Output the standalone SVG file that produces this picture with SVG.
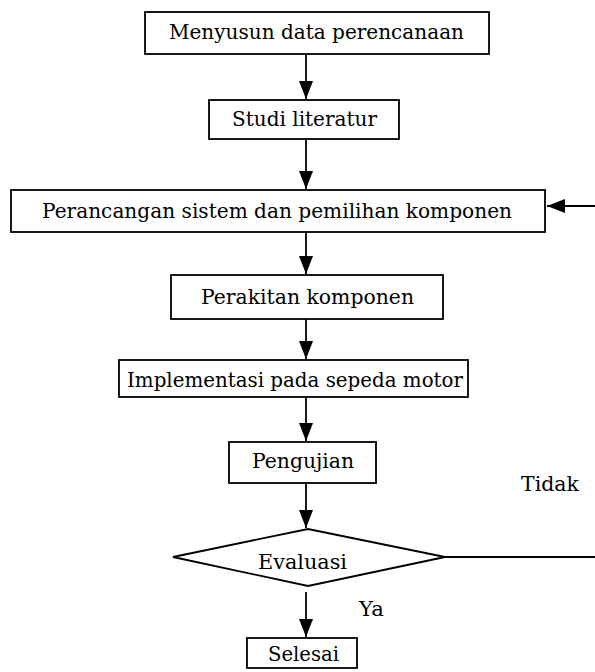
<svg xmlns="http://www.w3.org/2000/svg" width="595" height="672" viewBox="0 0 595 672">
<style>
.box{fill:#fff;stroke:#000;stroke-width:1.8}
.t{font-family:"DejaVu Serif","Liberation Serif",serif;font-size:21px;fill:#000}
.con{fill:none;stroke:#000;stroke-width:1.8}
</style>
<defs>
<marker id="ah" markerUnits="userSpaceOnUse" markerWidth="18" markerHeight="15" refX="18" refY="7.5" orient="auto">
<path d="M0,0.5 L18,7.5 L0,14.5 z" fill="#000"/>
</marker>
</defs>
<rect width="595" height="672" fill="#fff"/>
<g id="connectors">
<line class="con" x1="306" y1="54" x2="306" y2="99" marker-end="url(#ah)"/>
<line class="con" x1="306" y1="139" x2="306" y2="189" marker-end="url(#ah)"/>
<line class="con" x1="306" y1="232" x2="306" y2="274" marker-end="url(#ah)"/>
<line class="con" x1="306" y1="319" x2="306" y2="359" marker-end="url(#ah)"/>
<line class="con" x1="306" y1="397" x2="306" y2="441" marker-end="url(#ah)"/>
<line class="con" x1="306" y1="483" x2="306" y2="528" marker-end="url(#ah)"/>
<line class="con" x1="306" y1="592" x2="306" y2="637" marker-end="url(#ah)"/>
<path class="con" d="M445,557 H602 V206 H547" marker-end="url(#ah)"/>
<text class="t" x="521" y="491" textLength="58" lengthAdjust="spacingAndGlyphs">Tidak</text>
<text class="t" x="359" y="616" textLength="25" lengthAdjust="spacingAndGlyphs">Ya</text>
</g>
<g id="n1">
<rect class="box" x="145" y="12" width="344" height="42"/>
<text class="t" x="169" y="39" textLength="295" lengthAdjust="spacingAndGlyphs">Menyusun data perencanaan</text>
</g>
<g id="n2">
<rect class="box" x="209" y="100" width="190" height="39"/>
<text class="t" x="232" y="126" textLength="145" lengthAdjust="spacingAndGlyphs">Studi literatur</text>
</g>
<g id="n3">
<rect class="box" x="11" y="190" width="534" height="42"/>
<text class="t" x="42" y="218" textLength="470" lengthAdjust="spacingAndGlyphs">Perancangan sistem dan pemilihan komponen</text>
</g>
<g id="n4">
<rect class="box" x="171" y="275" width="272" height="44"/>
<text class="t" x="201" y="304" textLength="213" lengthAdjust="spacingAndGlyphs">Perakitan komponen</text>
</g>
<g id="n5">
<rect class="box" x="119" y="360" width="349" height="37"/>
<text class="t" x="127" y="387" textLength="336" lengthAdjust="spacingAndGlyphs">Implementasi pada sepeda motor</text>
</g>
<g id="n6">
<rect class="box" x="229" y="442" width="147" height="41"/>
<text class="t" x="252" y="468" textLength="102" lengthAdjust="spacingAndGlyphs">Pengujian</text>
</g>
<g id="n7">
<polygon class="box" points="173,557 308,529 445,557 308,586"/>
<text class="t" x="258" y="569" textLength="89" lengthAdjust="spacingAndGlyphs">Evaluasi</text>
</g>
<g id="n8">
<rect class="box" x="247" y="638" width="110" height="30"/>
<text class="t" x="268" y="661" textLength="71" lengthAdjust="spacingAndGlyphs">Selesai</text>
</g>
</svg>
